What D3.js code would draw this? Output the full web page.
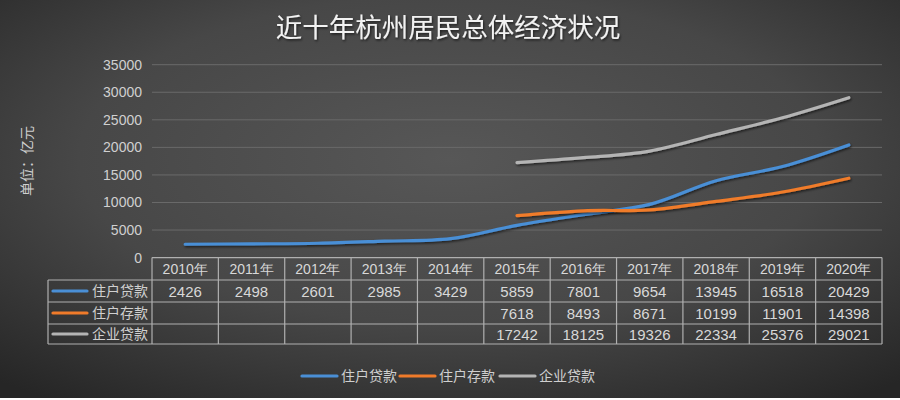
<!DOCTYPE html>
<html>
<head>
<meta charset="utf-8">
<script src="https://cdn.jsdelivr.net/npm/d3@7"></script>
<style>
  body { margin: 0; background: #fff; }
  svg { display: block; }
</style>
</head>
<body>
<svg id="chart" width="900" height="400"></svg>
<script>
// data
var years = ["2010年", "2011年", "2012年", "2013年", "2014年", "2015年", "2016年", "2017年", "2018年", "2019年", "2020年"];
var seriesNames = ["住户贷款", "住户存款", "企业贷款"];
var loansHousehold = [2426, 2498, 2601, 2985, 3429, 5859, 7801, 9654, 13945, 16518, 20429];
var depositsHousehold = [null, null, null, null, null, 7618, 8493, 8671, 10199, 11901, 14398];
var loansCompany = [null, null, null, null, null, 17242, 18125, 19326, 22334, 25376, 29021];
var yTicks = [0, 5000, 10000, 15000, 20000, 25000, 30000, 35000];
var colors = ["#4a8fd6", "#f07b2a", "#b4b4b4"];

var allSeries = [loansHousehold, depositsHousehold, loansCompany];

var svg = d3.select("#chart");
var numFont = "'Liberation Sans', Arial, sans-serif";
var cjkFont = "'Noto Sans CJK SC', sans-serif";

// background
var defs = svg.append("defs");
var grad = defs.append("radialGradient")
    .attr("id", "bg")
    .attr("cx", "50%").attr("cy", "40%").attr("r", "75%");
grad.append("stop").attr("offset", "0%").attr("stop-color", "#575757");
grad.append("stop").attr("offset", "55%").attr("stop-color", "#474747");
grad.append("stop").attr("offset", "100%").attr("stop-color", "#262626");

var shadow = defs.append("filter").attr("id", "shadow")
    .attr("x", "-10%").attr("y", "-30%").attr("width", "120%").attr("height", "160%");
shadow.append("feDropShadow")
    .attr("dx", 1).attr("dy", 1.5).attr("stdDeviation", 1.2)
    .attr("flood-color", "#000").attr("flood-opacity", 0.6);

svg.append("rect").attr("width", 900).attr("height", 398).attr("fill", "url(#bg)");

// title
svg.append("text")
    .attr("x", 448).attr("y", 37)
    .attr("text-anchor", "middle")
    .attr("font-family", cjkFont)
    .attr("font-size", 26.5)
    .attr("fill", "#f2f2f2")
    .attr("filter", "url(#shadow)")
    .text("近十年杭州居民总体经济状况");

// scales
var x = d3.scaleBand().domain(years).range([152, 882]);
var y = d3.scaleLinear().domain([0, 35000]).range([257.6, 64.7]);

// gridlines
svg.append("g").selectAll("line")
    .data(yTicks.filter(function(d) { return d > 0; }))
    .enter().append("line")
    .attr("x1", 152).attr("x2", 882)
    .attr("y1", function(d) { return y(d); })
    .attr("y2", function(d) { return y(d); })
    .attr("stroke", "#6a6a6a")
    .attr("stroke-width", 1);

// y axis labels
var yAxis = d3.axisLeft(y).tickValues(yTicks).tickFormat(d3.format("d")).tickSize(0).tickPadding(10);
var yg = svg.append("g").attr("transform", "translate(152,0)").call(yAxis);
yg.select(".domain").remove();
yg.selectAll("text")
    .attr("font-family", numFont)
    .attr("font-size", 14)
    .attr("fill", "#d0d0d0");

// y axis title
svg.append("text")
    .attr("transform", "translate(32,161) rotate(-90)")
    .attr("text-anchor", "middle")
    .attr("font-family", cjkFont)
    .attr("font-size", 14)
    .attr("fill", "#cfcfcf")
    .text("单位：亿元");

// lines
var line = d3.line()
    .defined(function(d) { return d != null; })
    .x(function(d, i) { return x(years[i]) + x.bandwidth() / 2; })
    .y(function(d) { return y(d); })
    .curve(d3.curveCatmullRom.alpha(0.5));

allSeries.forEach(function(s, k) {
    svg.append("path")
        .datum(s)
        .attr("d", line)
        .attr("fill", "none")
        .attr("stroke", colors[k])
        .attr("stroke-width", 3.2)
        .attr("stroke-linecap", "round")
        .attr("filter", "url(#shadow)");
});

// data table
var rowTop = [257.6, 280, 302, 324];
var rowBottom = 344;
var tableLeft = 48;
var borderColor = "#b0b0b0";
var table = svg.append("g").attr("stroke", borderColor).attr("stroke-width", 1.2).attr("fill", "none");

// horizontal lines
table.append("line").attr("x1", 152).attr("x2", 882).attr("y1", rowTop[0]).attr("y2", rowTop[0]);
[rowTop[1], rowTop[2], rowTop[3], rowBottom].forEach(function(yy) {
    table.append("line").attr("x1", tableLeft).attr("x2", 882).attr("y1", yy).attr("y2", yy);
});
// vertical lines
table.append("line").attr("x1", tableLeft).attr("x2", tableLeft).attr("y1", rowTop[1]).attr("y2", rowBottom);
years.forEach(function(yr) {
    table.append("line")
        .attr("x1", x(yr)).attr("x2", x(yr))
        .attr("y1", rowTop[0]).attr("y2", rowBottom);
});
table.append("line").attr("x1", 882).attr("x2", 882).attr("y1", rowTop[0]).attr("y2", rowBottom);

// header text
svg.append("g").selectAll("text")
    .data(years)
    .enter().append("text")
    .attr("x", function(d) { return x(d) + x.bandwidth() / 2; })
    .attr("y", (rowTop[0] + rowTop[1]) / 2 + 5)
    .attr("text-anchor", "middle")
    .attr("font-family", numFont)
    .attr("font-size", 14)
    .attr("fill", "#d8d8d8")
    .text(function(d) { return d; });

// row cells
allSeries.forEach(function(s, k) {
    var top = rowTop[k + 1];
    var bot = k < 2 ? rowTop[k + 2] : rowBottom;
    var cy = (top + bot) / 2;
    var g = svg.append("g");
    g.append("line")
        .attr("x1", 53).attr("x2", 87)
        .attr("y1", cy).attr("y2", cy)
        .attr("stroke", colors[k])
        .attr("stroke-width", 3.2)
        .attr("stroke-linecap", "round");
    g.append("text")
        .attr("x", 92).attr("y", cy + 5)
        .attr("font-family", cjkFont)
        .attr("font-size", 14)
        .attr("fill", "#d0d0d0")
        .text(seriesNames[k]);
    g.selectAll("text.v")
        .data(s)
        .enter().append("text")
        .attr("class", "v")
        .attr("x", function(d, i) { return x(years[i]) + x.bandwidth() / 2; })
        .attr("y", cy + 5.5)
        .attr("text-anchor", "middle")
        .attr("font-family", numFont)
        .attr("font-size", 15)
        .attr("fill", "#d8d8d8")
        .text(function(d) { return d == null ? "" : d; });
});

// bottom legend
var legendX = [302, 400, 500];
var legend = svg.append("g");
seriesNames.forEach(function(n, k) {
    legend.append("line")
        .attr("x1", legendX[k]).attr("x2", legendX[k] + 35)
        .attr("y1", 376).attr("y2", 376)
        .attr("stroke", colors[k])
        .attr("stroke-width", 3.2)
        .attr("stroke-linecap", "round");
    legend.append("text")
        .attr("x", legendX[k] + 39).attr("y", 381)
        .attr("font-family", cjkFont)
        .attr("font-size", 14)
        .attr("fill", "#cfcfcf")
        .text(n);
});
</script>
</body>
</html>
